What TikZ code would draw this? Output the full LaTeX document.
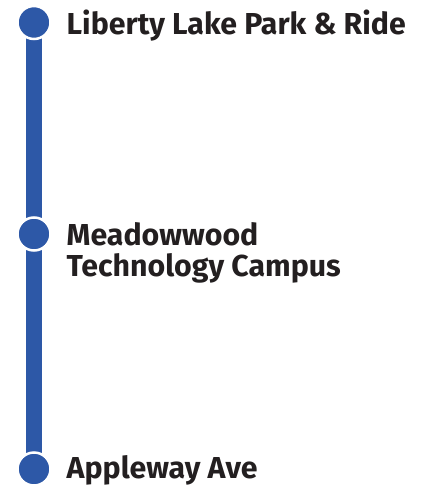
\documentclass[tikz,border=0pt]{standalone}
\usepackage{fontspec}
\setmainfont{Fira Sans}
\definecolor{lineblue}{HTML}{2D58A7}
\definecolor{txt}{HTML}{231F20}
\begin{document}
\begin{tikzpicture}[x=1pt,y=1pt,
  stop/.style={circle,fill=lineblue,draw=white,line width=2.5pt,minimum size=33pt,inner sep=0pt},
  lbl/.style={anchor=base west,inner sep=0pt,text=txt,font=\fontsize{30.3}{31.5}\selectfont\bfseries}]
\useasboundingbox (0,0) rectangle (425,-486);
\coordinate (c1) at (34,-22.5);
\coordinate (c3) at (34,-469);
\draw[lineblue,line width=15.5pt] (c1) -- (c3);
\node[stop] (s1) at (c1) {};
\node[stop] (s2) at (34,-234) {};
\node[stop] (s3) at (c3) {};
\node[lbl] (t1) at (66.5,-34.3) {Liberty Lake Park \& Ride};
\node[lbl] (t2a) at (66.5,-245) {Meadowwood};
\node[lbl] (t2b) at (66.5,-276.5) {Technology Campus};
\node[lbl] (t3) at (66.5,-478.5) {Appleway Ave};
\end{tikzpicture}
\end{document}
